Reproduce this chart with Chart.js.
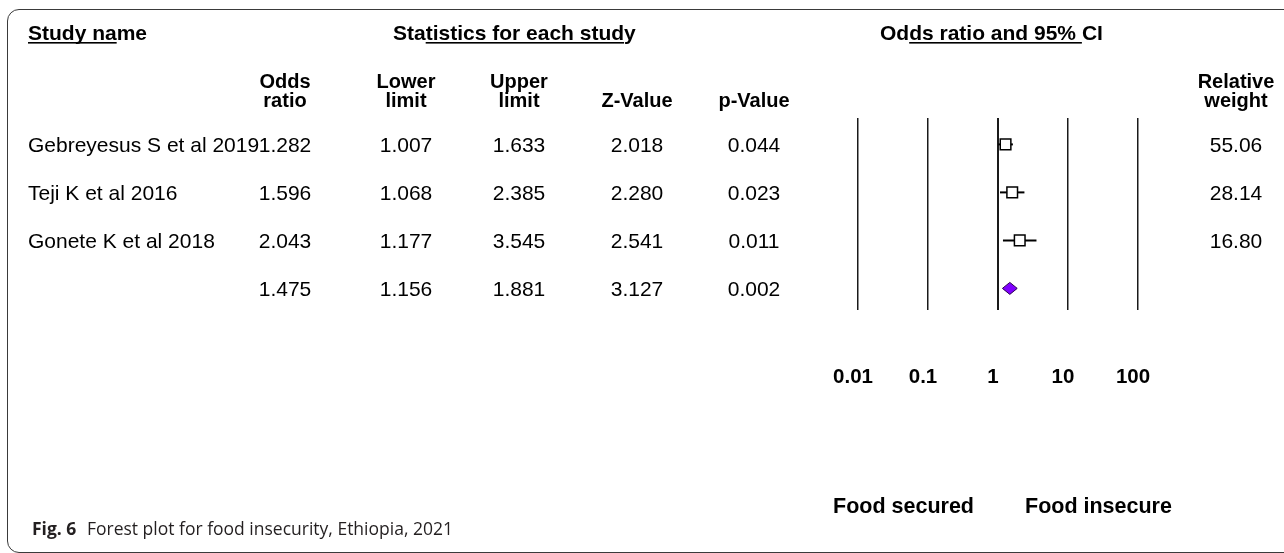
<!DOCTYPE html>
<html>
<head>
<meta charset="utf-8">
<script src="https://cdn.jsdelivr.net/npm/chart.js@4.4.1/dist/chart.umd.min.js"></script>
<style>
  html, body { margin: 0; padding: 0; background: #fff; }
  #wrap { position: relative; width: 1284px; height: 553px; overflow: hidden; }
  #frame {
    position: absolute; left: 7px; top: 9px; width: 1320px; height: 544px;
    border: 1px solid #3a3a3a; border-radius: 12px; box-sizing: border-box;
  }
  #forest { position: absolute; left: 0; top: 0; }
  #caption {
    position: absolute; left: 32px; top: 516px;
    font-family: "Open Sans", sans-serif; font-size: 17.5px; color: #231f20; white-space: nowrap;
  }
  #caption b { font-weight: 700; margin-right: 6px; }
</style>
</head>
<body>
<div id="wrap">
  <div id="frame"></div>
  <canvas id="forest" width="1284" height="553"></canvas>
  <div id="caption"><b>Fig. 6</b> Forest plot for food insecurity, Ethiopia, 2021</div>
</div>
<script>
// Data (last row is the pooled estimate)
const studyNames = ['Gebreyesus S et al 2019', 'Teji K et al 2016', 'Gonete K et al 2018', ''];
const oddsRatio = [1.282, 1.596, 2.043, 1.475];
const lowerLimit = [1.007, 1.068, 1.177, 1.156];
const upperLimit = [1.633, 2.385, 3.545, 1.881];
const zValue = [2.018, 2.280, 2.541, 3.127];
const pValue = [0.044, 0.023, 0.011, 0.002];
const relWeight = [55.06, 28.14, 16.80];
const axisTicks = [0.01, 0.1, 1, 10, 100];

const FONT = '"Liberation Sans", Arial, sans-serif';
const nStudies = relWeight.length;
const rowOf = i => i + 1;

// Study squares and CI lines
const datasets = [{
  type: 'scatter',
  data: oddsRatio.slice(0, nStudies).map((v, i) => ({ x: v, y: rowOf(i) })),
  pointStyle: 'rect',
  pointRadius: 7.5,
  pointBackgroundColor: '#fff',
  pointBorderColor: '#000',
  pointBorderWidth: 1.5
}];
for (let i = 0; i < nStudies; i++) {
  datasets.push({
    type: 'line',
    data: [{ x: lowerLimit[i], y: rowOf(i) }, { x: upperLimit[i], y: rowOf(i) }],
    borderColor: '#000',
    borderWidth: 2,
    pointRadius: 0
  });
}

// Pooled diamond
const diamondPlugin = {
  id: 'diamond',
  afterDatasetsDraw(chart) {
    const { ctx, scales: { x, y } } = chart;
    const i = oddsRatio.length - 1;
    const yc = y.getPixelForValue(rowOf(i));
    ctx.save();
    ctx.beginPath();
    ctx.moveTo(x.getPixelForValue(lowerLimit[i]), yc);
    ctx.lineTo(x.getPixelForValue(oddsRatio[i]), yc - 6);
    ctx.lineTo(x.getPixelForValue(upperLimit[i]), yc);
    ctx.lineTo(x.getPixelForValue(oddsRatio[i]), yc + 6);
    ctx.closePath();
    ctx.fillStyle = '#7f00ff';
    ctx.fill();
    ctx.strokeStyle = '#2b0050';
    ctx.lineWidth = 1;
    ctx.stroke();
    ctx.restore();
  }
};

// Table text, headings and axis side labels
function underlined(ctx, text, x, y, from, to) {
  ctx.fillText(text, x, y);
  const x0 = x + ctx.measureText(text.slice(0, from)).width;
  const x1 = x + ctx.measureText(text.slice(0, to)).width;
  ctx.fillRect(x0, y + 2, x1 - x0, 1.6);
}

const tablePlugin = {
  id: 'table',
  afterDraw(chart) {
    const { ctx, scales: { x, y } } = chart;
    ctx.save();
    ctx.fillStyle = '#000';
    ctx.textBaseline = 'alphabetic';
    ctx.textAlign = 'left';

    ctx.font = 'bold 21px ' + FONT;
    underlined(ctx, 'Study name', 28, 40, 0, 8);
    underlined(ctx, 'Statistics for each study', 393, 40, 3, 24);
    underlined(ctx, 'Odds ratio and 95% CI', 880, 40, 2, 19);

    // column headings
    const cols = [
      { c: 285, h: ['Odds', 'ratio'] },
      { c: 406, h: ['Lower', 'limit'] },
      { c: 519, h: ['Upper', 'limit'] },
      { c: 637, h: ['', 'Z-Value'] },
      { c: 754, h: ['', 'p-Value'] },
      { c: 1236, h: ['Relative', 'weight'] }
    ];
    ctx.font = 'bold 20px ' + FONT;
    ctx.textAlign = 'center';
    cols.forEach(col => {
      ctx.fillText(col.h[0], col.c, 88);
      ctx.fillText(col.h[1], col.c, 107);
    });

    // rows
    ctx.font = '21px ' + FONT;
    ctx.textBaseline = 'middle';
    oddsRatio.forEach((v, i) => {
      const yy = y.getPixelForValue(rowOf(i)) + 2;
      ctx.textAlign = 'left';
      ctx.fillText(studyNames[i], 28, yy);
      ctx.textAlign = 'center';
      ctx.fillText(v.toFixed(3), cols[0].c, yy);
      ctx.fillText(lowerLimit[i].toFixed(3), cols[1].c, yy);
      ctx.fillText(upperLimit[i].toFixed(3), cols[2].c, yy);
      ctx.fillText(zValue[i].toFixed(3), cols[3].c, yy);
      ctx.fillText(pValue[i].toFixed(3), cols[4].c, yy);
      if (i < relWeight.length) ctx.fillText(relWeight[i].toFixed(2), cols[5].c, yy);
    });

    // favours labels
    const one = x.getPixelForValue(1);
    ctx.font = 'bold 21.5px ' + FONT;
    ctx.textAlign = 'right';
    ctx.fillText('Food secured', one - 24, 507);
    ctx.textAlign = 'left';
    ctx.fillText('Food insecure', one + 27, 507);
    ctx.restore();
  }
};

new Chart(document.getElementById('forest'), {
  data: { datasets },
  options: {
    responsive: false,
    animation: false,
    layout: { padding: { left: 858, right: 146, top: 118, bottom: 143 } },
    plugins: { legend: { display: false }, tooltip: { enabled: false } },
    scales: {
      x: {
        type: 'logarithmic',
        min: 0.01,
        max: 100,
        afterBuildTicks: s => { s.ticks = axisTicks.map(v => ({ value: v })); },
        afterFit: s => { s.height = 100; },
        border: { display: false },
        grid: {
          drawTicks: false,
          color: '#1a1a1a',
          lineWidth: c => (c.tick && c.tick.value === 1 ? 2 : 1.5)
        },
        ticks: {
          padding: 55,
          labelOffset: -5,
          color: '#000',
          font: { family: FONT, size: 20.5, weight: 'bold' },
          callback: v => String(v)
        }
      },
      y: {
        type: 'linear',
        reverse: true,
        min: 0.45,
        max: 4.45,
        display: false
      }
    }
  },
  plugins: [diamondPlugin, tablePlugin]
});
</script>
</body>
</html>
